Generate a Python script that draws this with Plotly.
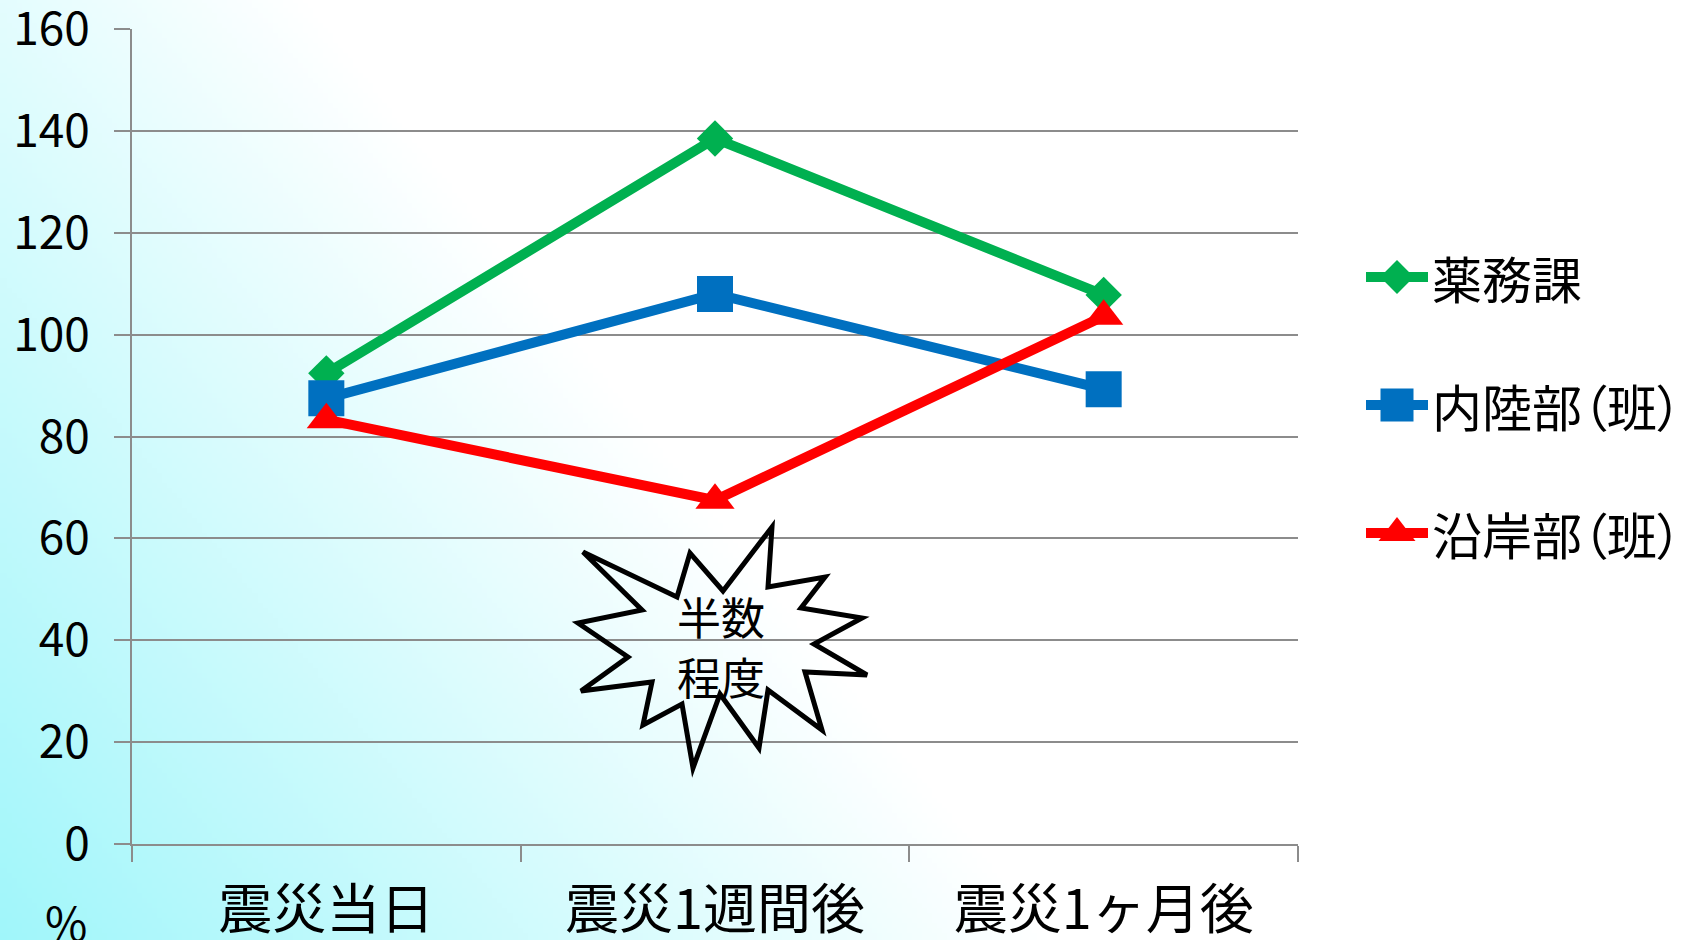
import base64
import struct
import zlib

import plotly.graph_objects as go

# ---------------- data ----------------
categories = ["震災当日", "震災1週間後", "震災1ヶ月後"]
series_names = ["薬務課", "内陸部（班）", "沿岸部（班）"]
yakumuka = [92.4, 138.5, 107.8]
nairiku = [87.5, 108.0, 89.3]
engan = [83.3, 67.5, 103.6]
y_tick_vals = [0, 20, 40, 60, 80, 100, 120, 140, 160]
y_tick_text = ["0", "20", "40", "60", "80", "100", "120", "140", "160"]
burst_lines = ["半数", "程度"]

series_values = [yakumuka, nairiku, engan]
series_colors = ["#00b050", "#0070c0", "#ff0000"]
series_symbols = ["diamond", "square", "triangle-up"]
series_msize = [28, 36, 34]
legend_msize = [26, 33, 32]

W, H = 1690, 940
FONT = "Noto Sans CJK JP"
GRID = "#8c8c8c"


def px(x):
    return x / W


def py(y):
    return 1 - y / H


# ---------------- background gradient (png data uri) ----------------
def gradient_png(w, h):
    base = (160, 246, 250)
    rows = []
    for j in range(h):
        yy = (j + 0.5) / h * H
        row = bytearray([0])
        for i in range(w):
            xx = (i + 0.5) / w * W
            t = (xx * 0.78 + (H - yy) * 0.62) / 820.0
            t = max(0.0, min(1.0, t))
            for c in base:
                row.append(int(round(c + (255 - c) * t)))
        rows.append(bytes(row))
    raw = b"".join(rows)

    def chunk(tag, data):
        c = struct.pack(">I", len(data)) + tag + data
        return c + struct.pack(">I", zlib.crc32(tag + data) & 0xFFFFFFFF)

    png = b"\x89PNG\r\n\x1a\n"
    png += chunk(b"IHDR", struct.pack(">IIBBBBB", w, h, 8, 2, 0, 0, 0))
    png += chunk(b"IDAT", zlib.compress(raw, 9))
    png += chunk(b"IEND", b"")
    return "data:image/png;base64," + base64.b64encode(png).decode()


bg_uri = gradient_png(338, 188)

# ---------------- figure ----------------
fig = go.Figure()

for name, vals, col, sym, ms in zip(series_names, series_values, series_colors,
                                     series_symbols, series_msize):
    fig.add_trace(go.Scatter(
        x=categories, y=vals, name=name, mode="lines+markers",
        line=dict(color=col, width=10),
        marker=dict(symbol=sym, size=ms, color=col, line=dict(width=0)),
        showlegend=False, cliponaxis=False, xaxis="x", yaxis="y",
    ))

# manual legend on an auxiliary axis pair
for i, (name, col, sym, ms) in enumerate(zip(series_names, series_colors,
                                             series_symbols, legend_msize)):
    fig.add_trace(go.Scatter(
        x=[0, 1], y=[i, i], mode="lines", line=dict(color=col, width=10),
        showlegend=False, hoverinfo="skip", xaxis="x2", yaxis="y2", cliponaxis=False,
    ))
    fig.add_trace(go.Scatter(
        x=[0.5], y=[i], mode="markers",
        marker=dict(symbol=sym, size=ms, color=col, line=dict(width=0)),
        showlegend=False, hoverinfo="skip", xaxis="x2", yaxis="y2", cliponaxis=False,
    ))

annotations = []
for i, name in enumerate(series_names):
    annotations.append(dict(
        x=px(1430), y=i, xref="paper", yref="y2",
        text="<span style='font-feature-settings:\"palt\"'>" + name + "</span>",
        showarrow=False,
        xanchor="left", yanchor="middle", font=dict(family=FONT, size=50, color="black"),
    ))

for line_text, ly in zip(burst_lines, [616, 676]):
    annotations.append(dict(
        x=px(721), y=py(ly), xref="paper", yref="paper", text=line_text,
        showarrow=False, xanchor="center", yanchor="middle",
        font=dict(family=FONT, size=44, color="black"),
    ))
annotations.append(dict(
    x=px(66), y=py(921), xref="paper", yref="paper", text="%",
    showarrow=False, xanchor="center", yanchor="middle",
    font=dict(family=FONT, size=46, color="black"),
))

# starburst outline (decoration)
burst_pts = [
    (583, 552), (677, 597), (690, 553), (723, 591), (772, 527), (768, 587),
    (825, 577), (801, 608), (862, 618), (814, 644), (867, 675), (805, 672),
    (822, 730), (768, 690), (759, 748), (720, 694), (693, 768), (682, 704),
    (643, 725), (652, 682), (581, 691), (628, 657), (578, 623), (642, 610),
]
path = "M " + " L ".join(f"{px(x):.5f},{py(y):.5f}" for x, y in burst_pts) + " Z"

fig.update_layout(
    template="none",
    width=W, height=H,
    margin=dict(l=0, r=0, t=0, b=0, pad=0, autoexpand=False),
    paper_bgcolor="white",
    plot_bgcolor="rgba(0,0,0,0)",
    showlegend=False,
    font=dict(family=FONT, color="black"),
    images=[dict(source=bg_uri, xref="paper", yref="paper", x=0, y=1,
                 sizex=1, sizey=1, sizing="stretch", xanchor="left",
                 yanchor="top", layer="below")],
    shapes=[dict(type="path", path=path, xref="paper", yref="paper",
                 line=dict(color="black", width=5), fillcolor="rgba(0,0,0,0)",
                 layer="above")],
    annotations=annotations,
    xaxis=dict(
        domain=[px(132), px(1298)], type="category",
        categoryorder="array", categoryarray=categories,
        range=[-0.5, 2.5], autorange=False,
        showgrid=False, zeroline=False, automargin=False,
        showline=True, linecolor=GRID, linewidth=2,
        ticks="outside", tickson="boundaries", ticklen=16,
        tickcolor=GRID, tickwidth=2,
        tickfont=dict(family=FONT, size=54, color="black"),
        ticklabelstandoff=18, ticklabeloverflow="allow",
        anchor="y",
    ),
    yaxis=dict(
        domain=[py(844), py(29)], range=[0, 160], autorange=False,
        tickvals=y_tick_vals, ticktext=y_tick_text,
        showgrid=True, gridcolor=GRID, gridwidth=2, zeroline=False,
        automargin=False,
        showline=True, linecolor=GRID, linewidth=2,
        ticks="outside", ticklen=16, tickcolor=GRID, tickwidth=2,
        tickfont=dict(family=FONT, size=46, color="black"),
        ticklabelstandoff=15, ticklabeloverflow="allow",
        anchor="x",
    ),
    xaxis2=dict(domain=[px(1366), px(1428)], range=[0, 1], visible=False,
                anchor="y2", fixedrange=True),
    yaxis2=dict(domain=[py(597), py(213)], range=[2.5, -0.5], visible=False,
                anchor="x2", fixedrange=True),
)

fig.write_html("out.html")
